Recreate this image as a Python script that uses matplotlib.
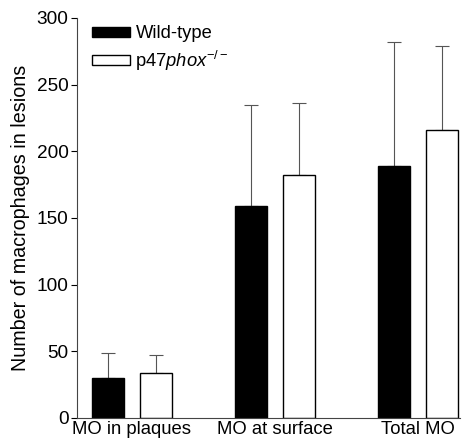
import matplotlib
matplotlib.use("Agg")
import matplotlib.pyplot as plt
import numpy as np

plt.rcParams['font.family'] = ['Liberation Sans', 'DejaVu Sans']
plt.rcParams['mathtext.fontset'] = 'custom'
plt.rcParams['mathtext.rm'] = 'Liberation Sans'
plt.rcParams['mathtext.it'] = 'Liberation Sans:italic'

categories = ['MO in plaques', 'MO at surface', 'Total MO']
wild_type = [30, 159, 189]
wild_type_err = [19, 76, 93]
p47phox = [34, 182, 216]
p47phox_err = [13, 54, 63]

fig = plt.figure(figsize=(4.62, 4.43), dpi=100)
ax = fig.add_axes([77 / 462, 25 / 443, 383 / 462, 400 / 443])

centers = np.array([132, 275, 418])
off = 24
w = 32
ax.bar(centers - off, wild_type, w, color='black', edgecolor='black',
       linewidth=1, label='Wild-type', zorder=2)
ax.bar(centers + off, p47phox, w, color='white', edgecolor='black',
       linewidth=1, label=r'p47$\mathit{phox}^{-/-}$', zorder=2)
ax.errorbar(centers - off, wild_type, yerr=[np.zeros(3), wild_type_err],
            fmt='none', ecolor='#555555', elinewidth=0.8, capsize=5,
            capthick=0.8, zorder=1)
ax.errorbar(centers + off, p47phox, yerr=[np.zeros(3), p47phox_err],
            fmt='none', ecolor='#555555', elinewidth=0.8, capsize=5,
            capthick=0.8, zorder=1)

ax.set_xlim(77, 460)
ax.set_ylim(0, 300)
ax.set_yticks(range(0, 301, 50))
ax.set_xticks(centers)
ax.set_xticklabels(categories, fontsize=13.3)
ax.tick_params(axis='x', length=0, pad=2)
ax.tick_params(axis='y', labelsize=13.7, length=4, width=0.8, pad=2)
for s in ['top', 'right']:
    ax.spines[s].set_visible(False)
ax.spines['left'].set_color('#444444')
ax.spines['bottom'].set_color('#444444')
ax.set_ylabel('Number of macrophages in lesions', fontsize=14.2, labelpad=5)

ax.legend(loc='upper left', bbox_to_anchor=(0.02, 1.0), frameon=False,
          fontsize=13.2, handlelength=2.07, handleheight=0.45,
          handletextpad=0.3, labelspacing=0.35, borderaxespad=0)

fig.savefig('out.png', dpi=100)
